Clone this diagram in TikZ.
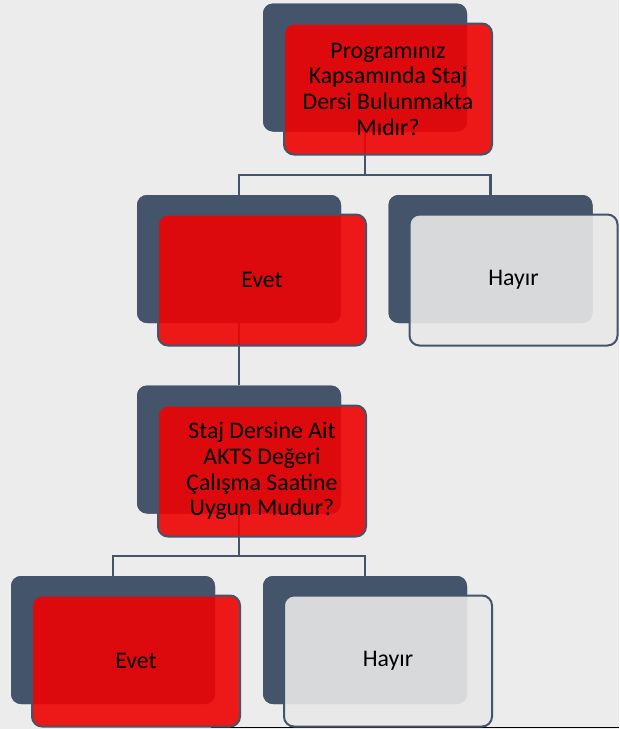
\documentclass[tikz,border=0pt]{standalone}
\usepackage{fontspec}
\setmainfont{Carlito}
\definecolor{bgc}{RGB}{236,236,236}
\definecolor{slate}{RGB}{68,84,106}
\definecolor{redf}{RGB}{238,3,3}
\definecolor{grayf}{RGB}{232,232,232}
\begin{document}
\begin{tikzpicture}[x=1pt,y=-1pt,
  backbox/.style={rectangle,rounded corners=10pt,fill=slate,minimum width=204pt,minimum height=128pt,inner sep=0pt},
  frontbox/.style={rectangle,rounded corners=10pt,draw=slate,line width=2pt,minimum width=208pt,minimum height=131pt,inner sep=0pt,
    fill opacity=0.9,text opacity=1,align=center,font=\fontsize{23.8pt}{25.7pt}\selectfont},
  yesbox/.style={frontbox,fill=redf},
  nobox/.style={frontbox,fill=grayf},
  link/.style={draw=slate,line width=2.3pt}]
\fill[bgc] (0,0) rectangle (619,729);
\draw[black,line width=1pt] (211,727.8) -- (619,727.8);
% back boxes (positions)
\node[backbox] (b1) at (365,67.5) {};
\node[backbox] (b2) at (239,259) {};
\node[backbox] (b3) at (490.5,259) {};
\node[backbox] (b4) at (239,449.5) {};
\node[backbox] (b5) at (113,640) {};
\node[backbox] (b6) at (365,640) {};
% connectors
\path[link] (b1.south) -- ++(0,43.5) -| (b2.north);
\path[link] (b1.south) -- ++(0,43.5) -| (b3.north);
\path[link] (b2.south) -- (b4.north);
\path[link] (b4.south) -- ++(0,42.5) -| (b5.north);
\path[link] (b4.south) -- ++(0,42.5) -| (b6.north);
% redraw back boxes over connectors
\node[backbox] at (b1) {};
\node[backbox] at (b2) {};
\node[backbox] at (b3) {};
\node[backbox] at (b4) {};
\node[backbox] at (b5) {};
\node[backbox] at (b6) {};
% front boxes
\node[yesbox] (f1) at (388,89) {Programınız\\Kapsamında Staj\\Dersi Bulunmakta\\Mıdır?};
\node[yesbox] (f2) at (262,280) {Evet};
\node[nobox] (f3) at (513.5,280) {Hayır};
\node[yesbox] (f4) at (262,471) {Staj Dersine Ait\\AKTS Değeri\\Çalışma Saatine\\Uygun Mudur?};
\node[yesbox] (f5) at (136,661) {Evet};
\node[nobox] (f6) at (388,661) {Hayır};
\end{tikzpicture}
\end{document}
